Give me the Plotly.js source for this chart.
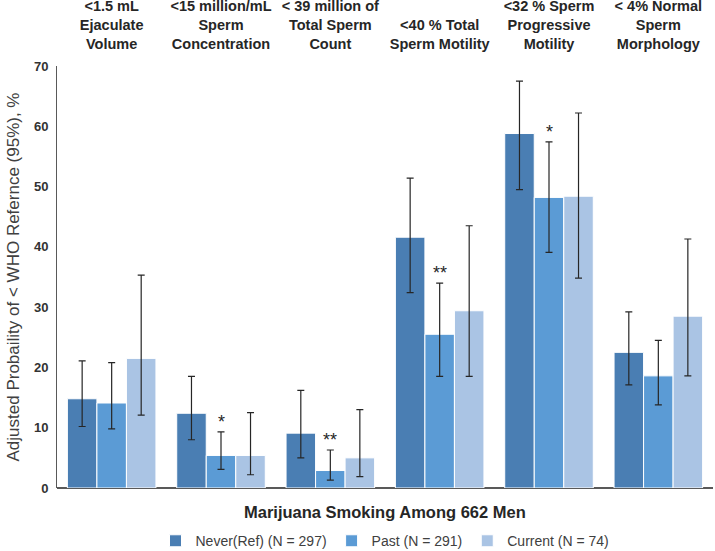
<!DOCTYPE html>
<html>
<head>
<meta charset="utf-8">
<script src="https://cdn.plot.ly/plotly-3.0.1.min.js"></script>
<style>html,body{margin:0;padding:0;background:#fff;}#chart{width:715px;height:551px;}</style>
</head>
<body>
<div id="chart"></div>
<script>
// Categories (outcomes)
var categories = [
  "<b>&lt;1.5 mL<br>Ejaculate<br>Volume</b>",
  "<b>&lt;15 million/mL<br>Sperm<br>Concentration</b>",
  "<b>&lt; 39 million of<br>Total Sperm<br>Count</b>",
  "<b>&lt;40 % Total<br>Sperm Motility</b>",
  "<b>&lt;32 % Sperm<br>Progressive<br>Motility</b>",
  "<b>&lt; 4% Normal<br>Sperm<br>Morphology</b>"
];
var seriesNames = ["Never(Ref) (N = 297)", "Past (N = 291)", "Current (N = 74)"];

// Adjusted probabilities (%)
var neverVals   = [14.8, 12.4, 9.1, 41.6, 58.8, 22.5];
var pastVals    = [14.1, 5.4, 2.9, 25.5, 48.2, 18.6];
var currentVals = [21.5, 5.4, 5.0, 29.4, 48.4, 28.5];

// 95% CI bounds
var neverLower   = [10.2, 8.0, 5.0, 32.4, 49.5, 17.1];
var neverUpper   = [21.1, 18.5, 16.2, 51.4, 67.5, 29.2];
var pastLower    = [9.8, 3.1, 1.3, 18.5, 39.1, 13.8];
var pastUpper    = [20.8, 9.3, 6.3, 34.0, 57.4, 24.5];
var currentLower = [12.1, 2.2, 1.9, 18.5, 34.8, 18.6];
var currentUpper = [35.3, 12.5, 13.0, 43.5, 62.2, 41.3];

// Significance markers on "Past" bars
var pastStars = ["", "*", "**", "**", "*", ""];

var colors = ["#4a7eb3", "#5b9bd5", "#aac4e4"];
var xIdx = categories.map(function(_, i){ return i; });

function diff(a, b){ return a.map(function(v, i){ return v - b[i]; }); }

function makeTrace(name, vals, lo, hi, color){
  return {
    type: "bar",
    name: name,
    x: xIdx,
    y: vals,
    marker: {color: color, line: {color: "#ffffff", width: 1}},
    error_y: {
      type: "data", symmetric: false,
      array: diff(hi, vals),
      arrayminus: diff(vals, lo),
      color: "#262626", thickness: 1.2, width: 3.5
    },
    hoverinfo: "y"
  };
}

var data = [
  makeTrace(seriesNames[0], neverVals, neverLower, neverUpper, colors[0]),
  makeTrace(seriesNames[1], pastVals, pastLower, pastUpper, colors[1]),
  makeTrace(seriesNames[2], currentVals, currentLower, currentUpper, colors[2])
];

var annotations = [];
pastStars.forEach(function(s, i){
  if (s) {
    annotations.push({
      x: i, y: pastUpper[i], xref: "x", yref: "y",
      text: s, showarrow: false, yanchor: "bottom", yshift: -2,
      font: {family: "Liberation Sans, Arial, sans-serif", size: 18, color: "#262626"}
    });
  }
});
annotations.push({
  x: 0.5, y: -0.057, xref: "paper", yref: "paper",
  text: "<b>Marijuana Smoking Among 662 Men</b>", showarrow: false,
  xanchor: "center", yanchor: "middle",
  font: {family: "Liberation Sans, Arial, sans-serif", size: 16.5, color: "#262626"}
});

var layout = {
  width: 715, height: 551,
  margin: {l: 57, r: 2, t: 66, b: 63, autoexpand: false},
  paper_bgcolor: "#ffffff", plot_bgcolor: "#ffffff",
  font: {family: "Liberation Sans, Arial, sans-serif", color: "#404040"},
  barmode: "group", bargap: 0.19, bargroupgap: 0,
  showlegend: true,
  legend: {
    orientation: "h", x: 0.5, xanchor: "center", y: -0.126, yanchor: "middle",
    font: {size: 14, color: "#404040"}, traceorder: "normal"
  },
  xaxis: {
    side: "top", type: "linear", range: [-0.5, 5.5],
    tickvals: xIdx, ticktext: categories,
    tickfont: {size: 14.5, color: "#262626"},
    showgrid: false, zeroline: false, showline: false,
    ticks: "outside", ticklen: 10, tickcolor: "rgba(0,0,0,0)",
    fixedrange: true
  },
  yaxis: {
    range: [0, 70], dtick: 10,
    tickfont: {size: 13, color: "#333333", weight: "bold"},
    tickprefix: "<b>", ticksuffix: "</b>",
    showgrid: false, zeroline: true, zerolinecolor: "#595959", zerolinewidth: 1.5,
    showline: true, linecolor: "#595959", linewidth: 1,
    ticks: "outside", ticklen: 5, tickcolor: "rgba(0,0,0,0)",
    title: {text: "Adjusted Probaility of < WHO Refernce (95%), %", font: {size: 17, color: "#404040"}, standoff: 9},
    fixedrange: true
  },
  annotations: annotations
};

Plotly.newPlot("chart", data, layout, {displayModeBar: false, staticPlot: true});
</script>
</body>
</html>
